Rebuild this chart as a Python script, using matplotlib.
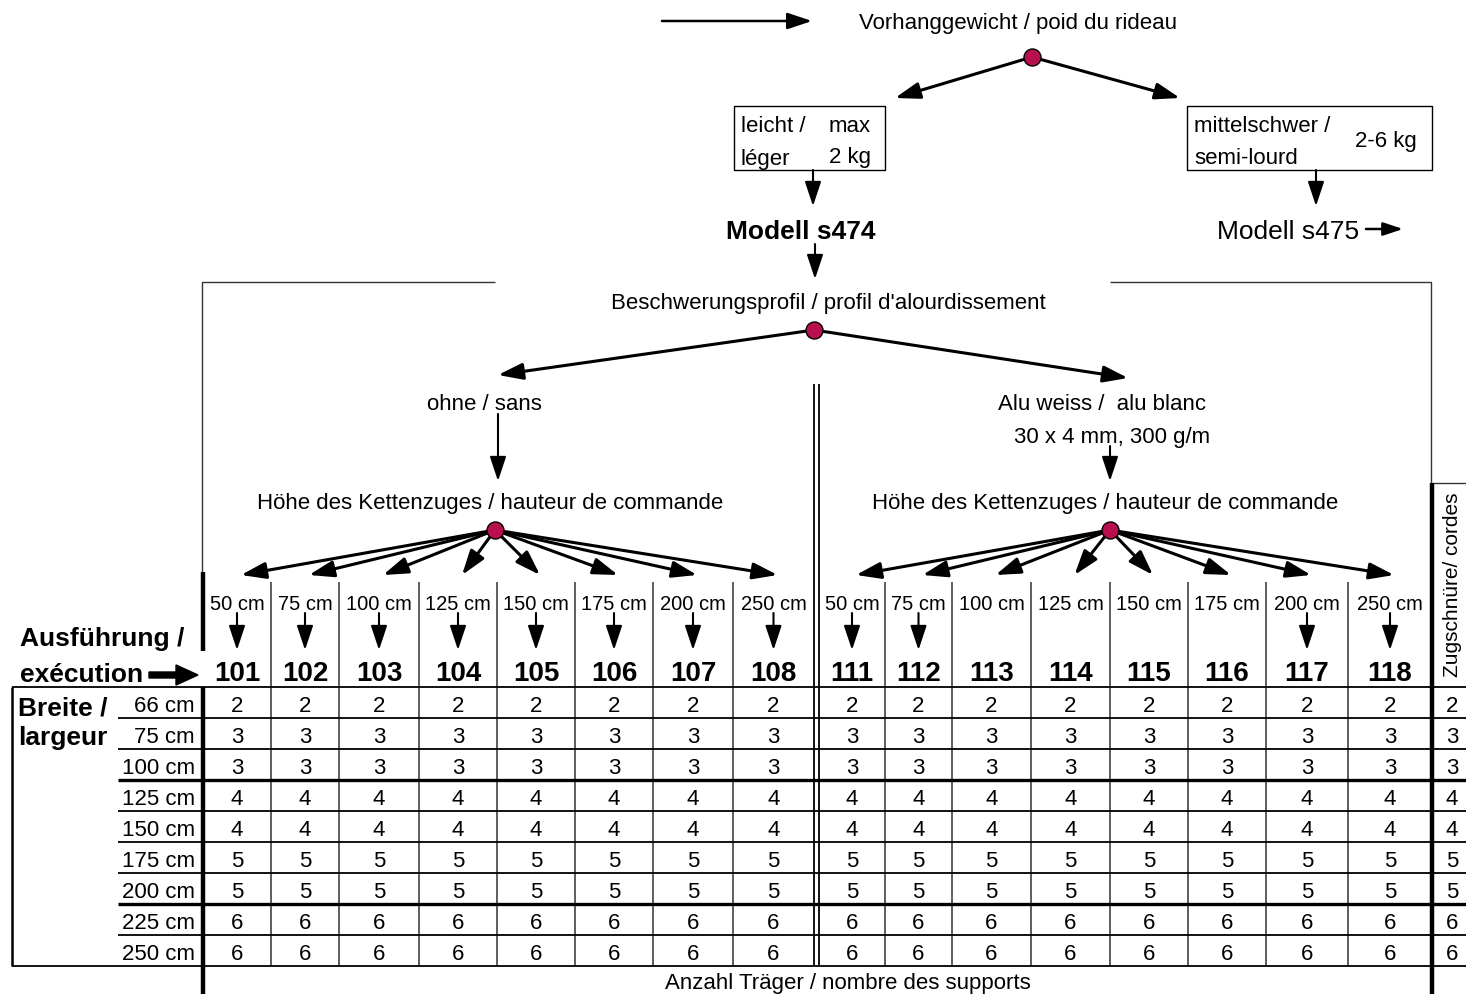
import matplotlib
matplotlib.use("Agg")
import matplotlib.pyplot as plt
from matplotlib import font_manager

names = {f.name for f in font_manager.fontManager.ttflist}
narrow = 'Liberation Sans Narrow' if 'Liberation Sans Narrow' in names else 'Liberation Sans'
plt.rcParams['font.family'] = [narrow, 'DejaVu Sans']

# --- data -----------------------------------------------------------------
widths = ['66 cm', '75 cm', '100 cm', '125 cm', '150 cm', '175 cm', '200 cm', '225 cm', '250 cm']
supports = [2, 3, 3, 4, 4, 5, 5, 6, 6]      # Anzahl Träger, same for every execution
cords = [2, 3, 3, 4, 4, 5, 5, 6, 6]         # Zugschnüre / cordes
heights = ['50 cm', '75 cm', '100 cm', '125 cm', '150 cm', '175 cm', '200 cm', '250 cm']
codes_ohne = ['101', '102', '103', '104', '105', '106', '107', '108']
codes_alu = ['111', '112', '113', '114', '115', '116', '117', '118']
arrow_ohne = [True, True, True, True, True, True, True, True]
arrow_alu = [True, True, False, False, False, False, True, True]

# --- layout (pixel coordinates) ------------------------------------------
left_edges = [203, 271, 339, 419, 497, 575, 653, 733, 814]
right_edges = [819, 885, 952, 1031, 1110, 1188, 1266, 1348, 1432]
row_top, row_h = 688, 31
thick_rows = [3, 7]
dot_color = '#b8104f'
FS = 16

fig = plt.figure(figsize=(14.66, 9.95), dpi=100)
ax = fig.add_axes([0, 0, 1, 1])
ax.set_xlim(0, 1466)
ax.set_ylim(995, 0)
ax.axis('off')


def arrow(x0, y0, x1, y1, lw=2.0, ms=20):
    ax.annotate('', xy=(x1, y1), xytext=(x0, y0),
                arrowprops=dict(arrowstyle='-|>,head_length=0.75,head_width=0.25',
                                lw=lw, color='black', mutation_scale=ms,
                                shrinkA=0, shrinkB=0))


def dot(x, y):
    ax.scatter([x], [y], s=150, color=dot_color, edgecolor='black', linewidth=1.0, zorder=5)


def line(xs, ys, lw=1.1, color='black'):
    ax.plot(xs, ys, color=color, lw=lw, solid_capstyle='butt')


# --- top of the decision tree --------------------------------------------
arrow(662, 22, 812, 22, lw=1.8)
ax.text(1018, 23, 'Vorhanggewicht / poid du rideau', fontsize=FS, ha='center', va='center')
arrow(1032, 58, 895, 99, lw=2.2)
arrow(1032, 58, 1180, 99, lw=2.2)
dot(1032, 58)

# boxes
line([734, 885, 885, 734, 734], [107, 107, 171, 171, 107], lw=1.0)
ax.text(741, 126, 'leicht /', fontsize=FS, va='center')
ax.text(850, 126, 'max', fontsize=FS, ha='center', va='center')
ax.text(741, 159, 'léger', fontsize=FS, va='center')
ax.text(850, 157, '2 kg', fontsize=FS, ha='center', va='center')
line([1187, 1432, 1432, 1187, 1187], [107, 107, 171, 171, 107], lw=1.0)
ax.text(1194, 126, 'mittelschwer /', fontsize=FS, va='center')
ax.text(1194, 159, 'semi-lourd', fontsize=FS, va='center')
ax.text(1386, 142, '2-6 kg', fontsize=FS, ha='center', va='center')

arrow(813, 171, 813, 207, lw=1.5)
arrow(1316, 171, 1316, 207, lw=1.5)
ax.text(801, 232, 'Modell s474', fontsize=19, fontweight='bold', ha='center', va='center')
ax.text(1288, 232, 'Modell s475', fontsize=19, ha='center', va='center')
arrow(1366, 230, 1403, 230, lw=1.8, ms=16)
arrow(815, 245, 815, 280, lw=1.5)

# bracket lines
line([495, 202, 202], [283, 283, 573], lw=1.0, color='#333333')
line([1110, 1431, 1431], [283, 283, 484], lw=1.0, color='#333333')
line([1431, 1466], [484, 484], lw=1.0, color='#333333')

ax.text(828, 303, "Beschwerungsprofil / profil d'alourdissement", fontsize=FS, ha='center', va='center')
arrow(814, 331, 498, 376, lw=2.2)
arrow(814, 331, 1128, 379, lw=2.2)
dot(814, 331)

ax.text(484, 405, 'ohne / sans', fontsize=FS, ha='center', va='center')
arrow(498, 415, 498, 482, lw=1.5)
ax.text(1102, 405, 'Alu weiss /  alu blanc', fontsize=FS, ha='center', va='center')
ax.text(1112, 437, '30 x 4 mm, 300 g/m', fontsize=FS, ha='center', va='center')
arrow(1110, 447, 1110, 482, lw=1.5)

# --- two halves of the table ---------------------------------------------
for edges, codes, has_arrow, hub_x in [(left_edges, codes_ohne, arrow_ohne, 495),
                                       (right_edges, codes_alu, arrow_alu, 1110)]:
    ax.text(hub_x - 5, 503, 'Höhe des Kettenzuges / hauteur de commande', fontsize=FS,
            ha='center', va='center')
    centers = [(a + b) / 2 for a, b in zip(edges[:-1], edges[1:])]
    for i, cx in enumerate(centers):
        arrow(hub_x, 531, cx + 4, 576, lw=2.2)
        ax.text(cx, 605, heights[i], fontsize=14.5, ha='center', va='center')
        if has_arrow[i]:
            arrow(cx, 614, cx, 651, lw=1.5)
        ax.text(cx, 674, codes[i], fontsize=20, fontweight='bold', ha='center', va='center')
        for r, v in enumerate(supports):
            ax.text(cx, row_top + (r + 0.5) * row_h + 3, str(v), fontsize=FS,
                    ha='center', va='center')
    dot(hub_x, 531)
    for x in edges[1:-1]:
        line([x, x], [583, row_top + 9 * row_h], lw=1.1, color='#333333')

# double separator in the middle
line([814, 814], [385, row_top + 9 * row_h], lw=1.3)
line([819, 819], [385, row_top + 9 * row_h], lw=1.3)
# thick verticals
line([203, 203], [573, 652], lw=3.2)
line([203, 203], [row_top, 995], lw=3.2)
line([1432, 1432], [484, 995], lw=3.2)
line([12, 12], [row_top, row_top + 9 * row_h], lw=1.8)

# horizontal rules
line([12, 1466], [row_top, row_top], lw=1.3)
for r in range(1, 10):
    y = row_top + r * row_h
    if r == 9:
        line([12, 1466], [y, y], lw=1.3)
    else:
        line([118, 1466], [y, y], lw=2.4 if r in thick_rows else 1.3)

# row labels and cords column
for r, w in enumerate(widths):
    y = row_top + (r + 0.5) * row_h + 3
    ax.text(195, y, w, fontsize=FS, ha='right', va='center')
    ax.text(1452, y, str(cords[r]), fontsize=FS, ha='center', va='center')

ax.text(1452, 585, 'Zugschnüre/ cordes', fontsize=15, rotation=90, ha='center', va='center')

# left header labels
ax.text(20, 639, 'Ausführung /', fontsize=19, fontweight='bold', va='center')
ax.text(20, 675, 'exécution', fontsize=19, fontweight='bold', va='center')
ax.arrow(149, 676, 49, 0, width=6, head_width=20, head_length=22,
         length_includes_head=True, color='black')
ax.text(18, 709, 'Breite /', fontsize=19, fontweight='bold', va='center')
ax.text(18, 738, 'largeur', fontsize=19, fontweight='bold', va='center')

ax.text(848, 984, 'Anzahl Träger / nombre des supports', fontsize=FS, ha='center', va='center')

fig.savefig('out.png', dpi=100)
